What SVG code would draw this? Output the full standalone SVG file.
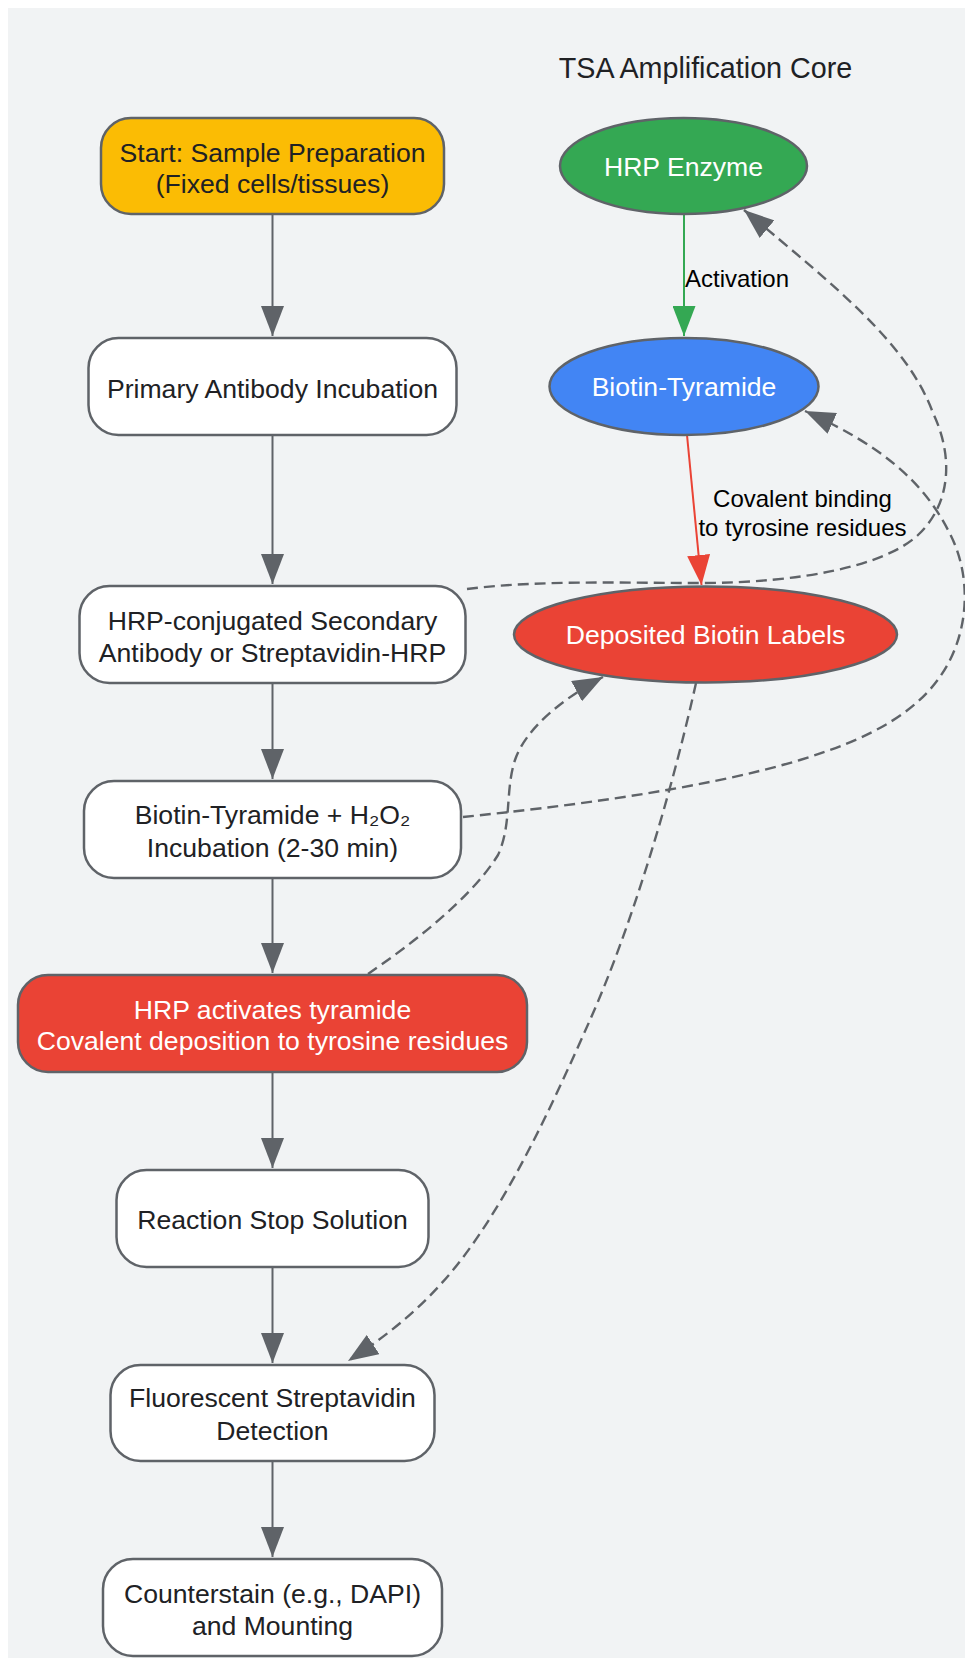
<svg xmlns="http://www.w3.org/2000/svg" width="965" height="1658" viewBox="0 0 965 1658">
<style>
.box{stroke:#5f6368;stroke-width:2.5}
.w{fill:#ffffff}
.t{font-family:"Liberation Sans",Arial,sans-serif;font-size:26.6px;text-anchor:middle;fill:#202124}
.tw{fill:#ffffff}
.lbl{font-family:"Liberation Sans",Arial,sans-serif;font-size:24px;fill:#000000}
.e{fill:none;stroke:#5f6368;stroke-width:2}
.d{stroke-dasharray:11,6;stroke-width:2.4}
</style>
<defs>
<marker id="ag" markerUnits="userSpaceOnUse" markerWidth="31" markerHeight="23" refX="30" refY="11.5" orient="auto"><path d="M0,0 L30,11.5 L0,23 z" fill="#5f6368"/></marker>
<marker id="agr" markerUnits="userSpaceOnUse" markerWidth="31" markerHeight="23" refX="30" refY="11.5" orient="auto"><path d="M0,0 L30,11.5 L0,23 z" fill="#34A853"/></marker>
<marker id="ar" markerUnits="userSpaceOnUse" markerWidth="31" markerHeight="23" refX="30" refY="11.5" orient="auto"><path d="M0,0 L30,11.5 L0,23 z" fill="#EA4335"/></marker>
</defs>
<rect x="8" y="8" width="970" height="1660" fill="#f1f3f4"/>
<text x="705.5" y="78" font-family="'Liberation Sans',Arial,sans-serif" font-size="28.7" text-anchor="middle" fill="#202124">TSA Amplification Core</text>

<g id="connectors">
<line class="e" x1="272.5" y1="214" x2="272.5" y2="336" marker-end="url(#ag)"/>
<line class="e" x1="272.5" y1="435" x2="272.5" y2="584" marker-end="url(#ag)"/>
<line class="e" x1="272.5" y1="683" x2="272.5" y2="779" marker-end="url(#ag)"/>
<line class="e" x1="272.5" y1="878" x2="272.5" y2="973" marker-end="url(#ag)"/>
<line class="e" x1="272.5" y1="1072" x2="272.5" y2="1168" marker-end="url(#ag)"/>
<line class="e" x1="272.5" y1="1267" x2="272.5" y2="1363" marker-end="url(#ag)"/>
<line class="e" x1="272.5" y1="1461" x2="272.5" y2="1557" marker-end="url(#ag)"/>
<line x1="684" y1="214" x2="684" y2="336" stroke="#34A853" stroke-width="2" marker-end="url(#agr)"/>
<line x1="687" y1="435" x2="701.5" y2="585" stroke="#EA4335" stroke-width="2" marker-end="url(#ar)"/>
<path class="e d" d="M467,589 C540,580 620,583 700,583 C800,583 885,566 918,535 C952,503 953,455 933,413 C908,345 840,290 744,210" marker-end="url(#ag)"/>
<path class="e d" d="M463,817 C560,807 700,790 800,760 C872,738 925,710 950,660 C970,620 970,570 948,530 C922,480 880,445 805,411" marker-end="url(#ag)"/>
<path class="e d" d="M368,974 C410,945 470,900 498,855 C512,825 505,790 515,760 C525,730 560,700 603,677" marker-end="url(#ag)"/>
<path class="e d" d="M696,683 C670,800 630,930 590,1020 C550,1110 500,1220 440,1285 C410,1318 380,1340 348,1361" marker-end="url(#ag)"/>
<text class="lbl" x="685" y="286.5">Activation</text>
<text class="lbl" x="802.5" y="506.5" text-anchor="middle">Covalent binding</text>
<text class="lbl" x="802.5" y="535.5" text-anchor="middle">to tyrosine residues</text>
</g>

<g id="start">
<rect class="box" x="101" y="118" width="343" height="96" rx="30" fill="#FBBC04"/>
<text class="t" x="272.5" y="161.5">Start: Sample Preparation</text>
<text class="t" x="272.5" y="192.5">(Fixed cells/tissues)</text>
</g>
<g id="primary">
<rect class="box w" x="88.5" y="338" width="368" height="97" rx="30"/>
<text class="t" x="272.5" y="397.5">Primary Antibody Incubation</text>
</g>
<g id="secondary">
<rect class="box w" x="79.5" y="586" width="386" height="97" rx="30"/>
<text class="t" x="272.5" y="629.5">HRP-conjugated Secondary</text>
<text class="t" x="272.5" y="661.5">Antibody or Streptavidin-HRP</text>
</g>
<g id="tyramide_incubation">
<rect class="box w" x="84" y="781" width="377" height="97" rx="30"/>
<text class="t" x="272.5" y="823.5">Biotin-Tyramide + H₂O₂</text>
<text class="t" x="272.5" y="856.5">Incubation (2-30 min)</text>
</g>
<g id="hrp_activates">
<rect class="box" x="18" y="975" width="509" height="97" rx="30" fill="#EA4335"/>
<text class="t tw" x="272.5" y="1018.5">HRP activates tyramide</text>
<text class="t tw" x="272.5" y="1049.5">Covalent deposition to tyrosine residues</text>
</g>
<g id="stop">
<rect class="box w" x="116.5" y="1170" width="312" height="97" rx="30"/>
<text class="t" x="272.5" y="1228.5">Reaction Stop Solution</text>
</g>
<g id="fluorescent">
<rect class="box w" x="110.5" y="1365" width="324" height="96" rx="30"/>
<text class="t" x="272.5" y="1407">Fluorescent Streptavidin</text>
<text class="t" x="272.5" y="1439.5">Detection</text>
</g>
<g id="counterstain">
<rect class="box w" x="103" y="1559" width="339" height="97" rx="30"/>
<text class="t" x="272.5" y="1602.5">Counterstain (e.g., DAPI)</text>
<text class="t" x="272.5" y="1634.5">and Mounting</text>
</g>
<g id="hrp_enzyme">
<ellipse class="box" cx="683.5" cy="166" rx="123.5" ry="48" fill="#34A853"/>
<text class="t tw" x="683.5" y="175.5">HRP Enzyme</text>
</g>
<g id="biotin_tyramide">
<ellipse class="box" cx="684" cy="386.5" rx="134.5" ry="48.5" fill="#4285F4"/>
<text class="t tw" x="684" y="396">Biotin-Tyramide</text>
</g>
<g id="deposited">
<ellipse class="box" cx="705.5" cy="634.5" rx="191.5" ry="48" fill="#EA4335"/>
<text class="t tw" x="705.5" y="644">Deposited Biotin Labels</text>
</g>
</svg>
